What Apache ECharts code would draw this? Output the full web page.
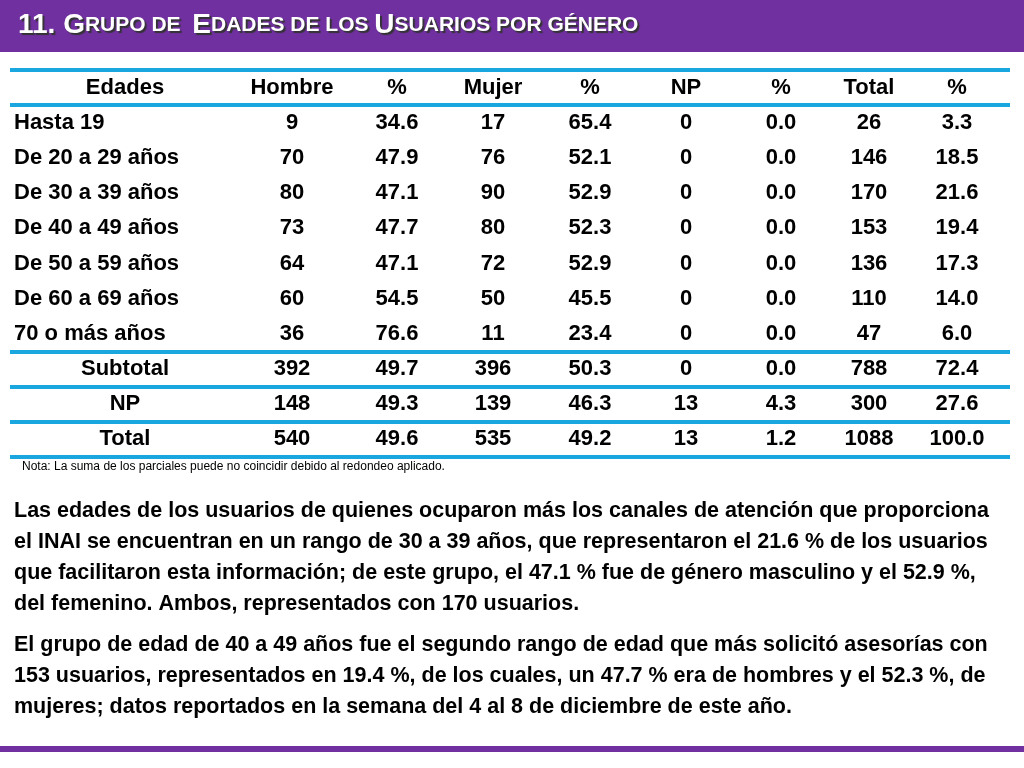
<!DOCTYPE html>
<html><head><meta charset="utf-8">
<script src="https://cdn.jsdelivr.net/npm/echarts@6/dist/echarts.min.js"></script>
<style>html,body{margin:0;padding:0;background:#fff}#c{width:1024px;height:768px}</style>
</head><body><div id="c"></div>
<script>
const headers = ["Edades","Hombre","%","Mujer","%","NP","%","Total","%"];
const rowLabels = ["Hasta 19","De 20 a 29 años","De 30 a 39 años","De 40 a 49 años","De 50 a 59 años","De 60 a 69 años","70 o más años","Subtotal","NP","Total"];
const hombre = [9,70,80,73,64,60,36,392,148,540];
const pctHombre = [34.6,47.9,47.1,47.7,47.1,54.5,76.6,49.7,49.3,49.6];
const mujer = [17,76,90,80,72,50,11,396,139,535];
const pctMujer = [65.4,52.1,52.9,52.3,52.9,45.5,23.4,50.3,46.3,49.2];
const np = [0,0,0,0,0,0,0,0,13,13];
const pctNP = [0.0,0.0,0.0,0.0,0.0,0.0,0.0,0.0,4.3,1.2];
const total = [26,146,170,153,136,110,47,788,300,1088];
const pctTotal = [3.3,18.5,21.6,19.4,17.3,14.0,6.0,72.4,27.6,100.0];
const nota = "Nota: La suma de los parciales puede no coincidir debido al redondeo aplicado.";
const para1 = ["Las edades de los usuarios de quienes ocuparon más los canales de atención que proporciona","el INAI se encuentran en un rango de 30 a 39 años, que representaron el 21.6 % de los usuarios","que facilitaron esta información; de este grupo, el 47.1 % fue de género masculino y el 52.9 %,","del femenino. Ambos, representados con 170 usuarios."];
const para2 = ["El grupo de edad de 40 a 49 años fue el segundo rango de edad que más solicitó asesorías con","153 usuarios, representados en 19.4 %, de los cuales, un 47.7 % era de hombres y el 52.3 %, de","mujeres; datos reportados en la semana del 4 al 8 de diciembre de este año."];

// layout (column centres on a 0..1000 scale)
const colX = [115,282,387,483,580,676,771,859,947];
const FONT = "'Liberation Sans',sans-serif";
const cols = [hombre, pctHombre, mujer, pctMujer, np, pctNP, total, pctTotal];
const isPct = [false,true,false,true,false,true,false,true];

const headData = headers.map((h,i)=>[colX[i],0.5,h]);
const leftData = [], centerData = [];
rowLabels.forEach((l,r)=>{
  if (r<7) leftData.push([4, r+1.5, l]); else centerData.push([colX[0], r+1.5, l]);
  cols.forEach((arr,c)=>{
    centerData.push([colX[c+1], r+1.5, isPct[c]? arr[r].toFixed(1) : String(arr[r])]);
  });
});
const lbl = (align)=>({show:true,position:'inside',align:align,verticalAlign:'middle',formatter:p=>p.value[2],
  color:'#000',fontFamily:FONT,fontWeight:'bold',fontSize:22});
const sep = [0,1,8,9,10,11];
const base = {type:'scatter',symbolSize:0,itemStyle:{opacity:1},emphasis:{disabled:true}};

const chart = echarts.init(document.getElementById('c'));
const sh = {textShadowColor:'#333',textShadowBlur:1,textShadowOffsetX:2,textShadowOffsetY:2};
chart.setOption({
  animation:false,
  grid:{left:10,width:1000,top:70,height:387},
  xAxis:{type:'value',min:0,max:1000,show:false},
  yAxis:{type:'value',min:0,max:11,inverse:true,show:false},
  series:[
    Object.assign({},base,{data:headData,label:lbl('center'),
     markLine:{symbol:'none',silent:true,label:{show:false},lineStyle:{color:'#1aa7e0',width:4,type:'solid'},
       data:sep.map(v=>({yAxis:v}))}}),
    Object.assign({},base,{data:leftData,label:lbl('left')}),
    Object.assign({},base,{data:centerData,label:lbl('center')})
  ],
  graphic:[
    {type:'rect',shape:{x:0,y:0,width:1024,height:52},style:{fill:'#7030a0'}},
    {type:'text',left:18,top:11,style:Object.assign({text:'{b|11. G}{s|RUPO DE  }{b|E}{s|DADES DE LOS }{b|U}{s|SUARIOS POR GÉNERO}',
      fill:'#fff',fontFamily:FONT,fontWeight:'bold',
      rich:{b:Object.assign({fontSize:28,fontWeight:'bold',fill:'#fff',fontFamily:FONT},sh),
            s:Object.assign({fontSize:21,fontWeight:'bold',fill:'#fff',fontFamily:FONT},sh)}},sh)},
    {type:'text',left:22,top:461,style:{text:nota,fontSize:12,fontFamily:FONT,fill:'#000'}},
    {type:'text',left:14,top:496,style:{text:para1.join('\n'),fontSize:21.5,lineHeight:31,fontWeight:'bold',fontFamily:FONT,fill:'#000'}},
    {type:'text',left:14,top:630,style:{text:para2.join('\n'),fontSize:21.5,lineHeight:31,fontWeight:'bold',fontFamily:FONT,fill:'#000'}},
    {type:'rect',shape:{x:0,y:746,width:1024,height:6},style:{fill:'#7030a0'}}
  ]
});
</script></body></html>
